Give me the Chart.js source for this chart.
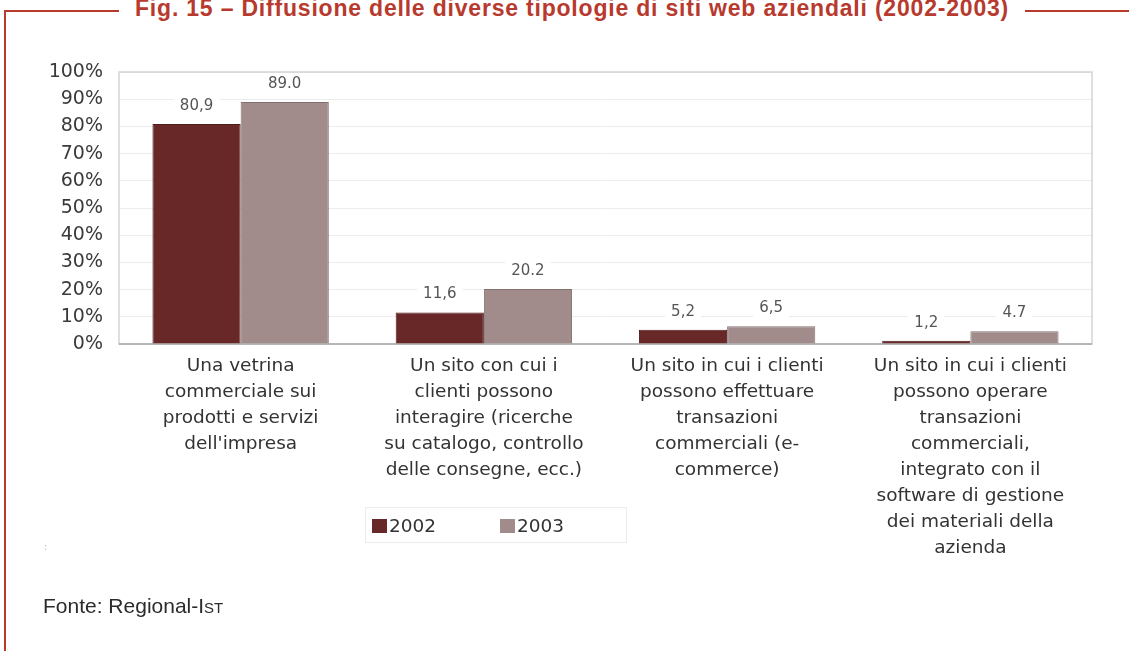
<!DOCTYPE html>
<html lang="it">
<head>
<meta charset="utf-8">
<title>Fig. 15 – Diffusione delle diverse tipologie di siti web aziendali</title>
<script src="https://cdn.jsdelivr.net/npm/chart.js@4.4.1/dist/chart.umd.min.js"></script>
<style>
    body { margin: 0; background: #ffffff; }
    .page { position: relative; width: 1129px; height: 651px; overflow: hidden; background: #ffffff; }
    .frame-left { position: absolute; left: 4px; top: 10px; width: 2px; height: 660px; background: #b8392d; }
    .frame-top-a { position: absolute; left: 4px; top: 10px; width: 115px; height: 2px; background: #b8392d; }
    .frame-top-b { position: absolute; left: 1025px; top: 10px; width: 104px; height: 2px; background: #b8392d; }
    .fig-title {
        position: absolute; left: 135px; top: -5px; white-space: nowrap;
        font-family: "Liberation Sans", Arial, sans-serif; font-weight: bold; font-size: 23px;
        letter-spacing: 0.8px; color: #b8392d;
    }
    #chartBox { position: absolute; left: 0; top: 0; }
    .legend {
        position: absolute; left: 365px; top: 507px; width: 262px; height: 36px;
        border: 1px solid #ececec; box-sizing: border-box;
        font-family: "DejaVu Sans", Verdana, sans-serif; font-size: 18.5px; color: #333;
    }
    .legend-item { position: absolute; top: 7px; display: flex; align-items: center; }
    .legend-item span.box { display: inline-block; width: 15px; height: 14px; margin-right: 2px; }
    .dots { position: absolute; left: 44px; top: 541px; font-family: "DejaVu Sans", sans-serif; font-size: 10px; color: #bbb; }
    .fonte {
        position: absolute; left: 43px; top: 594px;
        font-family: "Liberation Sans", Arial, sans-serif; font-size: 21px; color: #2b2b2b;
    }
</style>
</head>
<body>
<div class="page">
    <div class="frame-left"></div>
    <div class="frame-top-a"></div>
    <div class="frame-top-b"></div>
    <div class="fig-title">Fig. 15 – Diffusione delle diverse tipologie di siti web aziendali (2002-2003)</div>

    <canvas id="chartBox" width="1129" height="651"></canvas>

    <div class="legend" id="legend"></div>
    <div class="dots">:</div>
    <div class="fonte">Fonte: Regional-I<span style="font-variant: small-caps;">st</span></div>
</div>

<script>
// Categories (multi-line labels under each group)
const categories = [
    ["Una vetrina", "commerciale sui", "prodotti e servizi", "dell'impresa"],
    ["Un sito con cui i", "clienti possono", "interagire (ricerche", "su catalogo, controllo", "delle consegne, ecc.)"],
    ["Un sito in cui i clienti", "possono effettuare", "transazioni", "commerciali (e-", "commerce)"],
    ["Un sito in cui i clienti", "possono operare", "transazioni", "commerciali,", "integrato con il", "software di gestione", "dei materiali della", "azienda"]
];

// Series values (%)
const years = ["2002", "2003"];
const values2002 = [80.9, 11.6, 5.2, 1.2];
const values2003 = [89.0, 20.2, 6.5, 4.7];

// Decimal separator printed on each value label
const sep2002 = [",", ",", ",", ","];
const sep2003 = [".", ".", ",", "."];

// Y axis ticks
const yTicks = [0, 10, 20, 30, 40, 50, 60, 70, 80, 90, 100];

const barColors = ["#682828", "#a18b8b"];
const barBorders = ["#4e1c1c", "#857070"];

// Plot frame + value labels with white background
const frameAndLabels = {
    id: "frameAndLabels",
    beforeDatasetsDraw(chart) {
        const { ctx, chartArea } = chart;
        ctx.save();
        ctx.strokeStyle = "#d4d4d4";
        ctx.lineWidth = 1.5;
        ctx.strokeRect(chartArea.left, chartArea.top, chartArea.right - chartArea.left, chartArea.bottom - chartArea.top);
        ctx.strokeStyle = "#a8a8a8";
        ctx.beginPath();
        ctx.moveTo(chartArea.left, chartArea.bottom);
        ctx.lineTo(chartArea.right, chartArea.bottom);
        ctx.stroke();
        ctx.restore();
    },
    afterDatasetsDraw(chart) {
        const { ctx } = chart;
        const seps = [sep2002, sep2003];
        ctx.save();
        ctx.font = "15px 'DejaVu Sans', Verdana, sans-serif";
        ctx.textAlign = "center";
        ctx.textBaseline = "middle";
        chart.data.datasets.forEach((ds, di) => {
            chart.getDatasetMeta(di).data.forEach((bar, i) => {
                const txt = ds.data[i].toFixed(1).replace(".", seps[di][i]);
                const w = ctx.measureText(txt).width;
                const y = bar.y - 18;
                ctx.fillStyle = "#ffffff";
                ctx.fillRect(bar.x - w / 2 - 6, y - 9, w + 12, 18);
                ctx.fillStyle = "#555555";
                ctx.fillText(txt, bar.x, y);
            });
        });
        ctx.restore();
    }
};

const ctx = document.getElementById("chartBox").getContext("2d");

const chart = new Chart(ctx, {
    type: "bar",
    data: {
        labels: categories,
        datasets: [
            {
                label: years[0],
                data: values2002,
                backgroundColor: barColors[0],
                borderColor: barBorders[0],
                borderWidth: 1
            },
            {
                label: years[1],
                data: values2003,
                backgroundColor: barColors[1],
                borderColor: barBorders[1],
                borderWidth: 1
            }
        ]
    },
    options: {
        responsive: false,
        animation: false,
        layout: {
            padding: { top: 72, right: 37, bottom: 77, left: 0 }
        },
        datasets: {
            bar: { categoryPercentage: 0.725, barPercentage: 1.0 }
        },
        scales: {
            x: {
                grid: { display: false, drawTicks: false },
                border: { display: false },
                ticks: {
                    color: "#333333",
                    padding: 9,
                    maxRotation: 0,
                    autoSkip: false,
                    font: { family: "'DejaVu Sans', Verdana, sans-serif", size: 18.5, lineHeight: 1.405 }
                },
                afterFit: (scale) => { scale.height = 230; }
            },
            y: {
                min: 0,
                max: 100,
                afterBuildTicks: (scale) => { scale.ticks = yTicks.map(v => ({ value: v })); },
                grid: { color: "#ececec", lineWidth: 1, drawTicks: false },
                border: { display: false },
                ticks: {
                    color: "#3a3a3a",
                    padding: 16,
                    callback: (v) => v + "%",
                    font: { family: "'DejaVu Sans', Verdana, sans-serif", size: 19 }
                },
                afterFit: (scale) => { scale.width = 119; }
            }
        },
        plugins: {
            legend: { display: false },
            tooltip: { enabled: false },
            title: { display: false }
        }
    },
    plugins: [frameAndLabels]
});

// Legend built from the datasets
const legendBox = document.getElementById("legend");
const legendX = [6, 134];
chart.data.datasets.forEach((ds, i) => {
    const item = document.createElement("div");
    item.className = "legend-item";
    item.style.left = legendX[i] + "px";
    item.innerHTML = '<span class="box" style="background:' + ds.backgroundColor + '"></span>' + ds.label;
    legendBox.appendChild(item);
});
</script>
</body>
</html>
